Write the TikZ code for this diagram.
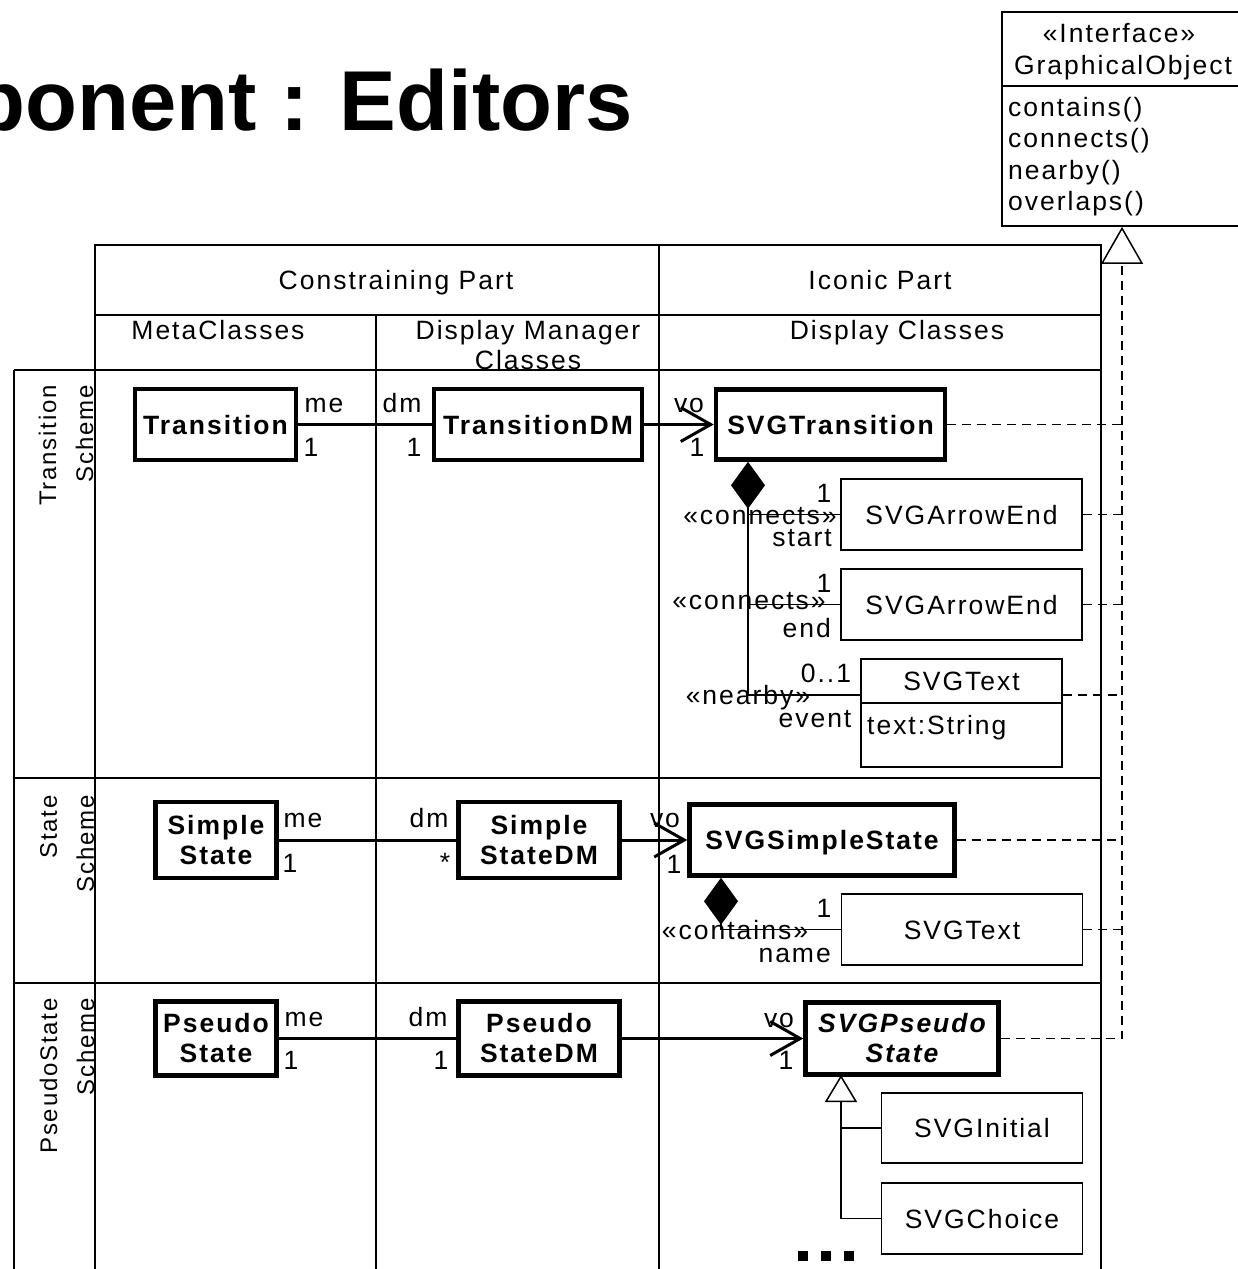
\documentclass[tikz,border=0pt]{standalone}
\usepackage{fontspec}
\setmainfont{Liberation Sans}[LetterSpace=7.5]
\newfontfamily\titlefont{Liberation Sans}
\usetikzlibrary{arrows.meta,calc}

\newcommand\bodysize{\fontsize{26.5}{30}\selectfont}
\newcommand\rowsize{\fontsize{24}{37}\selectfont}

\begin{document}
\begin{tikzpicture}[x=1pt,y=-1pt,
  every node/.style={inner sep=0pt, font=\bodysize},
  tabline/.style={line width=1.5pt},
  lbl/.style={text height=19pt, text depth=0pt},
  cls/.style={draw, line width=1.7pt, text height=19pt, text depth=0pt},
  bcls/.style={draw, line width=4.5pt, font=\bodysize\bfseries},
  assoc/.style={line width=3pt},
  nav/.style={assoc, -{Straight Barb[length=30pt,width=34pt]}},
  thinl/.style={line width=1.5pt},
  comp/.style={thinl, {Diamond[length=47pt,width=34pt]}-},
  realiz/.style={line width=1.5pt, dash pattern=on 9pt off 6pt},
  rowlabel/.style={rotate=90, anchor=east, align=right, font=\rowsize},
]
\useasboundingbox (0,0) rectangle (1238,1269);
\fill[white] (0,0) rectangle (1238,1269);

% slide title
\node[anchor=base west, font=\titlefont\bfseries\fontsize{85}{90}\selectfont] (title) at (-27,130) {ponent : Editors};

% interface class
\node[draw, line width=1.7pt, minimum width=240pt, minimum height=214pt] (iface) at (1122,119) {};
\draw[thinl] ($(iface.north west)+(0,75)$) -- ($(iface.north east)+(0,75)$);
\node[lbl] (istereo) at (1119,33) {«Interface»};
\node[lbl] (iname) at (1123,65) {GraphicalObject};
\node[lbl, anchor=west] (m1) at (1008,107) {contains()};
\node[lbl, anchor=west] (m2) at (1008,138) {connects()};
\node[lbl, anchor=west] (m3) at (1008,170) {nearby()};
\node[lbl, anchor=west] (m4) at (1008,201) {overlaps()};

% table grid
\draw[tabline] (95,1275) -- (95,245) -- (1101,245) -- (1101,1275);
\draw[tabline] (95,315) -- (1101,315);
\draw[tabline] (14,370) -- (1101,370);
\draw[tabline] (14,778) -- (1101,778);
\draw[tabline] (14,983) -- (1101,983);
\draw[tabline] (14,370) -- (14,1275);
\draw[tabline] (659,245) -- (659,1275);
\draw[tabline] (376,315) -- (376,1275);

% column headers
\node[lbl] (hcon) at (396,280) {Constraining Part};
\node[lbl] (hico) at (880,280) {Iconic Part};
\node[lbl] (hmeta) at (218,330) {MetaClasses};
\node[align=center] (hdm) at (528,345) {Display Manager\\Classes};
\node[lbl] (hdc) at (897,330) {Display Classes};

% row headers
\node[rowlabel] (rtrans) at (66,385) {Transition\\Scheme};
\node[rowlabel] (rstate) at (67,795) {State\\Scheme};
\node[rowlabel] (rpseudo) at (67,998) {PseudoState\\Scheme};

% ---- transition scheme ----
\node[bcls, lbl, minimum width=161pt, minimum height=71pt] (tr) at (215.5,424.5) {Transition};
\node[bcls, lbl, minimum width=208pt, minimum height=71pt] (trdm) at (538,424.5) {TransitionDM};
\node[bcls, lbl, minimum width=229pt, minimum height=70pt] (svgtr) at (830.5,424.5) {SVGTransition};
\draw[assoc] (tr) -- (trdm);
\draw[nav] (trdm) -- (svgtr);
\node[lbl] (trme) at (324,403) {me};
\node[lbl] (trme1) at (311,447) {1};
\node[lbl] (trdmr) at (402,403) {dm};
\node[lbl] (trdm1) at (414,447) {1};
\node[lbl] (trvo) at (689,403) {vo};
\node[lbl] (trvo1) at (697,447) {1};

\node[cls, minimum width=241pt, minimum height=71pt] (ae1) at (961.5,514.5) {SVGArrowEnd};
\node[cls, minimum width=241pt, minimum height=71pt] (ae2) at (961.5,604.5) {SVGArrowEnd};
\node[cls, minimum width=201pt, minimum height=44pt] (stexth) at (961.5,681) {SVGText};
\node[draw, line width=1.7pt, minimum width=201pt, minimum height=64pt] (stextb) at (961.5,735) {};
\node[lbl, anchor=west] (stattr) at (867,725) {text:String};

\coordinate (j1) at (748,695);
\draw[comp] (svgtr.south -| j1) -- (j1) -- (j1 -| stexth.west);
\draw[thinl] (j1 |- ae1.west) -- (ae1.west);
\draw[thinl] (j1 |- ae2.west) -- (ae2.west);
\node[lbl] (c1m) at (824,493) {1};
\node[lbl] (c1s) at (760,515) {«connects»};
\node[lbl, anchor=east] (c1r) at (832,537) {start};
\node[lbl] (c2m) at (824,583) {1};
\node[lbl] (c2s) at (749,600) {«connects»};
\node[lbl, anchor=east] (c2r) at (831,628) {end};
\node[lbl] (c3m) at (826,673) {0..1};
\node[lbl] (c3s) at (748,695) {«nearby»};
\node[lbl] (c3r) at (815,718) {event};

% ---- state scheme ----
\node[bcls, align=center, minimum width=121pt, minimum height=76pt] (ss) at (216,840) {Simple\\State};
\node[bcls, align=center, minimum width=161pt, minimum height=76pt] (ssdm) at (539,840) {Simple\\StateDM};
\node[bcls, lbl, minimum width=265pt, minimum height=71pt] (svgss) at (822,840) {SVGSimpleState};
\draw[assoc] (ss) -- (ssdm);
\draw[nav] (ssdm) -- (svgss);
\node[lbl] (ssme) at (303,818) {me};
\node[lbl] (ssme1) at (290,863) {1};
\node[lbl] (ssdmr) at (429,818) {dm};
\node[lbl] (ssdmn) at (445,862) {*};
\node[lbl] (ssvo) at (665,818) {vo};
\node[lbl] (ssvo1) at (674,864) {1};

\node[cls, minimum width=241pt, minimum height=71pt] (st2) at (962,929.5) {SVGText};
\coordinate (j2) at (721,929.5);
\draw[comp] (svgss.south -| j2) -- (j2) -- (st2.west);
\node[lbl] (c4m) at (824,908) {1};
\node[lbl] (c4s) at (735,930) {«contains»};
\node[lbl, anchor=east] (c4r) at (831,953) {name};

% ---- pseudostate scheme ----
\node[bcls, align=center, minimum width=121pt, minimum height=74pt] (ps) at (216,1038.5) {Pseudo\\State};
\node[bcls, align=center, minimum width=161pt, minimum height=74pt] (psdm) at (539,1038.5) {Pseudo\\StateDM};
\node[bcls, align=center, minimum width=193pt, minimum height=72pt, font=\bodysize\bfseries\itshape] (svgps) at (902,1038.5) {SVGPseudo\\State};
\draw[assoc] (ps) -- (psdm);
\draw[nav] (psdm) -- (svgps);
\node[lbl] (psme) at (304,1017) {me};
\node[lbl] (psme1) at (291,1060) {1};
\node[lbl] (psdmr) at (428,1017) {dm};
\node[lbl] (psdm1) at (441,1060) {1};
\node[lbl] (psvo) at (779,1018) {vo};
\node[lbl] (psvo1) at (786,1060) {1};

\node[cls, minimum width=201pt, minimum height=70pt] (sinit) at (982,1128) {SVGInitial};
\node[cls, minimum width=201pt, minimum height=71pt] (schoice) at (982,1218.5) {SVGChoice};
\coordinate (gtop) at (841,1075);
\draw[thinl] (schoice.west) -| (gtop);
\draw[thinl, -{Triangle[fill=white,length=27pt,width=32pt]}] (sinit.west) -| (gtop);

% more subclasses
\fill (798,1251) rectangle ++(10,10);
\fill (821,1251) rectangle ++(10,10);
\fill (844,1251) rectangle ++(10,10);

% realization of the interface
\coordinate (trunk) at (iface.south |- svgps.east);
\draw[realiz, -{Triangle[fill=white,length=37pt,width=42pt]}] (svgps.east) -- (trunk) -- (iface.south);
\draw[realiz] (svgtr.east) -- (svgtr.east -| trunk);
\draw[realiz] (ae1.east) -- (ae1.east -| trunk);
\draw[realiz] (ae2.east) -- (ae2.east -| trunk);
\draw[realiz] (j1 -| stexth.east) -- (j1 -| trunk);
\draw[realiz] (svgss.east) -- (svgss.east -| trunk);
\draw[realiz] (st2.east) -- (st2.east -| trunk);
\end{tikzpicture}
\end{document}
